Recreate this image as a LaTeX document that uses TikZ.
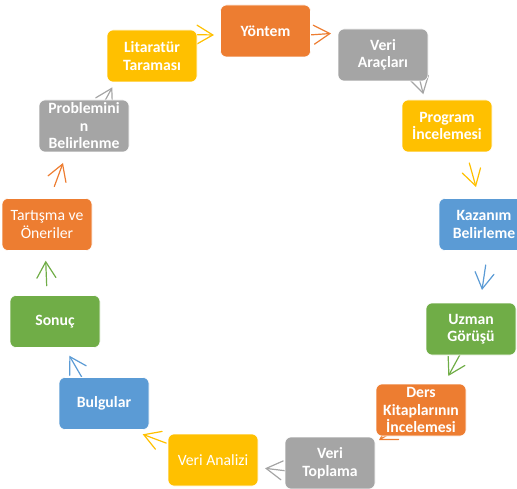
\documentclass[tikz,border=0pt]{standalone}
\usepackage{fontspec}
\setmainfont{Carlito}
\usetikzlibrary{arrows.meta,backgrounds}
\definecolor{cOrange}{HTML}{ED7D31}
\definecolor{cGray}{HTML}{A5A5A5}
\definecolor{cYellow}{HTML}{FFC000}
\definecolor{cBlue}{HTML}{5B9BD5}
\definecolor{cGreen}{HTML}{70AD47}
\begin{document}
\begin{tikzpicture}[x=1pt,y=-1pt,
  box/.style={rounded corners=6pt, minimum width=90pt, minimum height=52pt, inner sep=0pt,
    align=center, text=white, draw=white, line width=0.6pt,
    font=\fontsize{15.7}{17.5}\selectfont\bfseries},
  boxreg/.style={box, font=\fontsize{15.7}{17.5}\selectfont},
  arr/.style={line width=1.2pt, line cap=round, line join=round,
    -{Straight Barb[length=16pt,width=19pt,line cap=round]}}]
\useasboundingbox (0,0) rectangle (517,489);
% boxes
\node[box, fill=cOrange] (yon)  at (265.5,31)  {Yöntem};
\node[box, fill=cGray]   (va)   at (383,55)    {Veri\\Araçları};
\node[box, fill=cYellow] (prog) at (447,126)   {Program\\İncelemesi};
\node[box, fill=cBlue]   (kaz)  at (484,224.5) {Kazanım\\Belirleme};
\node[box, fill=cGreen]  (uzm)  at (471,329)   {Uzman\\Görüşü};
\node[box, fill=cOrange] (ders) at (421,410)   {Ders\\Kitaplarının\\İncelemesi};
\node[box, fill=cGray]   (vt)   at (330,463)   {Veri\\Toplama};
\node[boxreg, fill=cYellow] (van) at (213,460) {Veri Analizi};
\node[box, fill=cBlue]   (bul)  at (104,403.5) {Bulgular};
\node[box, fill=cGreen]  (son)  at (55,321.5)  {Sonuç};
\node[boxreg, fill=cOrange] (tart) at (47,224.5) {Tartışma ve\\Öneriler};
\node[box, fill=cGray]   (prob) at (84,126)    {Problemini\\n\\Belirlenme};
\node[box, fill=cYellow] (lit)  at (152,56)    {Litaratür\\Taraması};
% arrows
\begin{pgfonlayer}{background}
\draw[arr, cYellow] ([shift={(37,-21.5)}]lit.center)   -- ([shift={(-51.5,4)}]yon.center);
\draw[arr, cOrange] ([shift={(40.5,4.2)}]yon.center)   -- ([shift={(-52,-21.5)}]va.center);
\draw[arr, cGray]   ([shift={(34.3,15)}]va.center)     -- ([shift={(-23.7,-31.7)}]prog.center);
\draw[arr, cYellow] ([shift={(22.3,37)}]prog.center)   -- ([shift={(-8,-37.5)}]kaz.center);
\draw[arr, cBlue]   ([shift={(1.7,40.5)}]kaz.center)   -- ([shift={(11,-39)}]uzm.center);
\draw[arr, cGreen]  ([shift={(-10.7,25)}]uzm.center)   -- ([shift={(27.3,-34)}]ders.center);
\draw[arr, cOrange] ([shift={(-20.5,17.3)}]ders.center) -- ([shift={(49,-23)}]vt.center);
\draw[arr, cGray]   ([shift={(-40.2,8.3)}]vt.center)   -- ([shift={(52,8.3)}]van.center);
\draw[arr, cYellow] ([shift={(-46.8,-16.9)}]van.center) -- ([shift={(38.7,30.8)}]bul.center);
\draw[arr, cBlue]   ([shift={(-22.2,-26.3)}]bul.center) -- ([shift={(14.3,34.2)}]son.center);
\draw[arr, cGreen]  ([shift={(-8.3,-35.8)}]son.center) -- ([shift={(-1.3,36.2)}]tart.center);
\draw[arr, cOrange] ([shift={(7.3,-38)}]tart.center)   -- ([shift={(-21,37)}]prob.center);
\draw[arr, cGray]   ([shift={(16.3,-16.7)}]prob.center) -- ([shift={(-39.7,31.3)}]lit.center);
\end{pgfonlayer}
\end{tikzpicture}
\end{document}
